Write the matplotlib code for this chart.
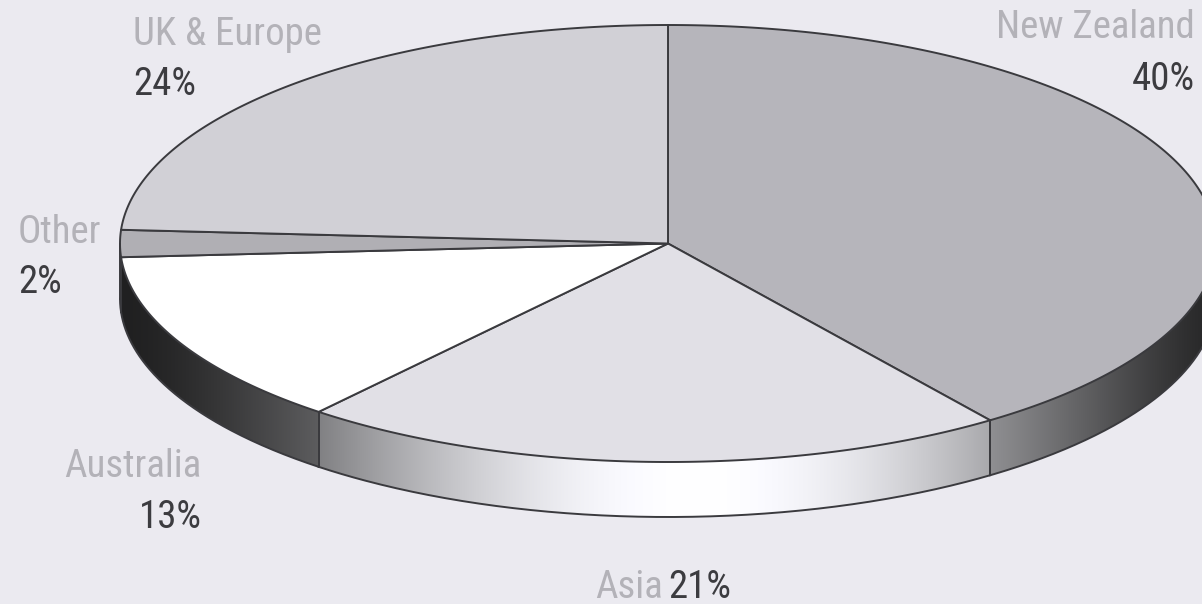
import numpy as np
import matplotlib.pyplot as plt
from matplotlib.patches import Polygon

# Share of visitors by origin
regions = ["New Zealand", "Asia", "Australia", "Other", "UK & Europe"]
shares = [40, 21, 13, 2, 24]

plt.rcParams['font.family'] = ['Roboto Condensed', 'Archivo Narrow', 'DejaVu Sans']

BG = '#ebeaf0'
EDGE = '#3a3a3e'
top_colors = ['#b6b5bb', '#e1e0e6', '#ffffff', '#b0afb4', '#d1d0d6']
wall_tint = [0.85, 1.0, 0.72, 0.72, 0.9]

# ellipse geometry, in pixels
cx, cy = 668, 243.5
rx, ry = 548, 218.5
depth = 55

fig = plt.figure(figsize=(12.02, 6.04), dpi=100, facecolor=BG)
ax = fig.add_axes([0, 0, 1, 1])
ax.set_facecolor(BG)


def ell(theta_deg, dy=0.0):
    t = np.radians(theta_deg)
    return cx + rx * np.cos(t), cy - ry * np.sin(t) + dy


# wedge angles, clockwise from 12 o'clock
bounds = [90.0]
for s in shares:
    bounds.append(bounds[-1] - 360.0 * s / sum(shares))

# cylindrical shading across the wall
xs = np.linspace(cx - rx, cx + rx, 600)
theta_x = -np.degrees(np.arccos(np.clip((xs - cx) / rx, -1, 1)))
light = np.clip(np.cos(np.radians(theta_x + 87)), 0, 1) ** 3
base = 45 + 210 * light

for i in range(len(shares)):
    hi, lo = bounds[i], bounds[i + 1]
    a, b = max(lo, -180.0), min(hi, 0.0)
    if b <= a:
        continue
    th = np.linspace(a, b, 200)
    tx, ty = ell(th)
    bx, by = ell(th[::-1], depth)
    poly = Polygon(np.column_stack([np.r_[tx, bx], np.r_[ty, by]]),
                   closed=True, facecolor='none', edgecolor='none')
    ax.add_patch(poly)
    g = np.clip(base * wall_tint[i], 0, 255) / 255.0
    img = np.tile(g, (2, 1))
    rgb = np.dstack([img, img, img * 1.02])
    im = ax.imshow(np.clip(rgb, 0, 1), extent=(cx - rx, cx + rx, cy + ry + depth + 5, cy - 5),
                   aspect='auto', interpolation='bilinear', zorder=1)
    im.set_clip_path(poly)
    # outline of the wall piece
    ax.plot(bx, by, color=EDGE, lw=1.4, zorder=3)
    for ang in (a, b):
        px, py = ell(ang)
        ax.plot([px, px], [py, py + depth], color=EDGE, lw=1.4, zorder=3)

# top faces
for i in range(len(shares)):
    th = np.linspace(bounds[i], bounds[i + 1], 200)
    tx, ty = ell(th)
    pts = np.column_stack([np.r_[cx, tx], np.r_[cy, ty]])
    ax.add_patch(Polygon(pts, closed=True, facecolor=top_colors[i],
                         edgecolor=EDGE, lw=1.4, joinstyle='round', zorder=2))

name_col = '#b3b2b8'
pct_col = '#3c3c40'
fs = 28
kw = dict(fontsize=fs, va='baseline')

ax.text(133, 45, regions[4], color=name_col, ha='left', **kw)
ax.text(133, 95, f"{shares[4]}%", color=pct_col, ha='left', **kw)
ax.text(1195, 38, regions[0], color=name_col, ha='right', **kw)
ax.text(1195, 90, f"{shares[0]}%", color=pct_col, ha='right', **kw)
ax.text(18, 243, regions[3], color=name_col, ha='left', **kw)
ax.text(18, 293, f"{shares[3]}%", color=pct_col, ha='left', **kw)
ax.text(201, 477, regions[2], color=name_col, ha='right', **kw)
ax.text(202, 528, f"{shares[2]}%", color=pct_col, ha='right', **kw)
ax.text(595, 598, regions[1], color=name_col, ha='left', **kw)
ax.text(668, 598, f"{shares[1]}%", color=pct_col, ha='left', **kw)

ax.set_xlim(0, 1202)
ax.set_ylim(604, 0)
ax.axis('off')

fig.savefig('out.png', dpi=100, facecolor=BG)
